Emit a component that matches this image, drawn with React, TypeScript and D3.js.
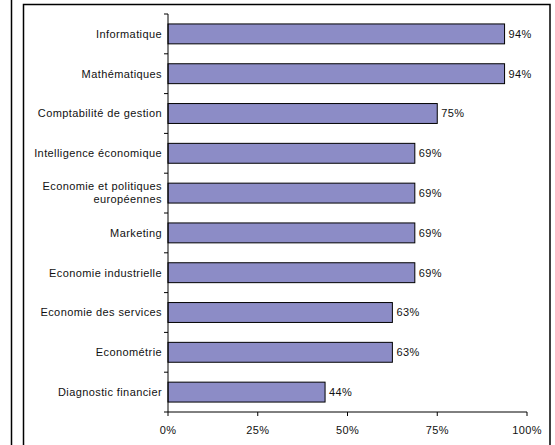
import React from "react";
import * as d3 from "d3";

const categories = [
  "Informatique",
  "Mathématiques",
  "Comptabilité de gestion",
  "Intelligence économique",
  "Economie et politiques\neuropéennes",
  "Marketing",
  "Economie industrielle",
  "Economie des services",
  "Econométrie",
  "Diagnostic financier",
];
const values = [0.9375, 0.9375, 0.75, 0.6875, 0.6875, 0.6875, 0.6875, 0.625, 0.625, 0.4375];
const valueLabels = ["94%", "94%", "75%", "69%", "69%", "69%", "69%", "63%", "63%", "44%"];
const xTicks = [0, 0.25, 0.5, 0.75, 1];

const W = 555;
const H = 445;
const FONT = "'Liberation Sans', Arial, sans-serif";
const FS = 11;
const LS = 0.4;

export default function App() {
  const x = d3.scaleLinear().domain([0, 1]).range([168, 527]);
  const y = d3.scaleBand().domain(categories).range([14, 412]).paddingInner(0.5).paddingOuter(0.25);
  const bounds = d3.range(categories.length + 1).map((i) => 14 + i * (398 / categories.length));
  const fmt = d3.format(".0%");
  return (
    <svg width={W} height={H} style={{ position: "absolute", left: 0, top: 0, background: "#fff" }} fontFamily={FONT}>
      <line x1={11.5} y1={0} x2={11.5} y2={H} stroke="#000" strokeWidth={1.5} />
      <rect x={23.5} y={4.5} width={526.5} height={H + 10} fill="#fff" stroke="#000" strokeWidth={1.5} />
      {categories.map((c, i) => {
        const yy = y(c)!;
        const bh = y.bandwidth();
        const lines = c.split("\n");
        const cy = yy + bh / 2;
        return (
          <g key={c}>
            <rect x={x(0)} y={yy} width={x(values[i]) - x(0)} height={bh} fill="#8C8CC6" stroke="#000" strokeWidth={1} />
            <text x={x(values[i]) + 4} y={cy} dy="0.35em" fontSize={FS} letterSpacing={LS} fill="#111">
              {valueLabels[i]}
            </text>
            {lines.map((l, j) => (
              <text key={j} x={162} y={cy + (j - (lines.length - 1) / 2) * 13} dy="0.35em" fontSize={FS} letterSpacing={LS} textAnchor="end" fill="#111">
                {l}
              </text>
            ))}
          </g>
        );
      })}
      <line x1={168} y1={14} x2={168} y2={412} stroke="#000" />
      {bounds.map((b, i) => (
        <line key={i} x1={164} x2={168} y1={b} y2={b} stroke="#000" />
      ))}
      <line x1={168} y1={412} x2={527} y2={412} stroke="#000" />
      {xTicks.map((t) => (
        <g key={t}>
          <line x1={x(t)} x2={x(t)} y1={412} y2={416} stroke="#000" />
          <text x={x(t)} y={430} dy="0.35em" textAnchor="middle" fontSize={FS} letterSpacing={LS} fill="#111">
            {fmt(t)}
          </text>
        </g>
      ))}
    </svg>
  );
}
